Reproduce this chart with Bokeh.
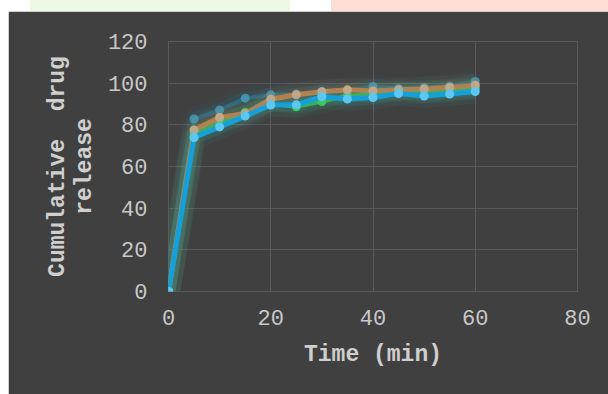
from bokeh.plotting import figure
from bokeh.layouts import column, row
from bokeh.models import Div, Spacer, FixedTicker
from bokeh.embed import file_html
from bokeh.resources import INLINE

times = [0, 5, 10, 15, 20, 25, 30, 35, 40, 45, 50, 55, 60]
series_teal = [0, 82.8, 87.1, 92.8, 94.4, 94.8, 96.0, 96.5, 98.4, 97.5, 97.9, 98.7, 100.8]
series_green = [0, 76.0, 81.0, 86.0, 90.0, 88.7, 91.2, 94.0, 94.8, 95.5, 95.8, 96.2, 97.6]
series_tan = [0, 77.5, 83.5, 85.4, 92.3, 94.4, 95.9, 96.8, 96.3, 96.8, 97.2, 97.9, 99.0]
series_blue = [0, 73.9, 79.0, 84.2, 89.5, 89.6, 93.5, 92.4, 93.1, 95.0, 93.8, 94.8, 96.0]
x_ticks = [0, 20, 40, 60, 80]
y_ticks = [0, 20, 40, 60, 80, 100, 120]

BG = "#404040"
GRID = "#5a5a5a"
TXT = "#c8c8c8"
TITLE = "#cfcfcf"
FONT = "Liberation Mono"

p = figure(width=600, height=383, x_range=(0, 80), y_range=(0, 120),
           output_backend="svg", toolbar_location=None,
           background_fill_color=BG, border_fill_color=BG,
           min_border_left=160, min_border_right=31,
           min_border_top=30, min_border_bottom=103)
p.outline_line_color = GRID
for g in (p.xgrid[0], p.ygrid[0]):
    g.grid_line_color = GRID
    g.grid_line_width = 1
p.xaxis.ticker = FixedTicker(ticks=x_ticks)
p.yaxis.ticker = FixedTicker(ticks=y_ticks)
p.xgrid.ticker = FixedTicker(ticks=x_ticks)
p.ygrid.ticker = FixedTicker(ticks=y_ticks)
for ax in (p.xaxis[0], p.yaxis[0]):
    ax.axis_line_color = None
    ax.major_tick_line_color = None
    ax.minor_tick_line_color = None
    ax.major_tick_out = 0
    ax.major_label_text_font = FONT
    ax.major_label_text_font_size = "22px"
    ax.major_label_text_color = TXT
    ax.axis_label_text_font = FONT
    ax.axis_label_text_font_size = "23px"
    ax.axis_label_text_font_style = "bold"
    ax.axis_label_text_color = TITLE
    ax.axis_label_text_line_height = 1.05
p.xaxis.axis_label = "Time (min)"
p.yaxis.axis_label = "Cumulative\u00a0\u00a0drug\nrelease"
p.xaxis.major_label_standoff = 18
p.yaxis.major_label_standoff = 21
p.xaxis.axis_label_standoff = 14
p.yaxis.axis_label_standoff = 7

def draw(ys, line_col, mark_col, lw, glow_col, alpha=1.0):
    p.line(times, ys, line_color=glow_col, line_width=24, line_alpha=0.06)
    p.line(times, ys, line_color=glow_col, line_width=14, line_alpha=0.10)
    p.line(times, ys, line_color=line_col, line_width=lw, line_alpha=alpha)
    p.scatter(times, ys, size=9, fill_color=mark_col, line_color=None, fill_alpha=alpha)

draw(series_teal, "#2a6f8c", "#4a9ec0", 4, "#2a8fb0", alpha=0.8)
draw(series_green, "#2db24a", "#3ccb4e", 4, "#30c060")
draw(series_tan, "#c07c45", "#cba784", 5, "#c08050")
draw(series_blue, "#15a0da", "#5cc8f2", 5, "#30c0d0")

top = Div(width=608, height=11, styles={
    "background": "linear-gradient(to right, #ffffff 0px, #ffffff 30px, #eef8e6 30px, #eef8e6 290px, #ffffff 290px, #ffffff 331px, #ffdcd4 331px, #ffdcd4 608px)",
    "margin": "0", "padding": "0"})
left = Spacer(width=8, height=383, styles={"background": "#ffffff"})
layout = column(top, row(left, p, spacing=0), spacing=0)

open("out.html", "w").write(file_html(layout, INLINE))
